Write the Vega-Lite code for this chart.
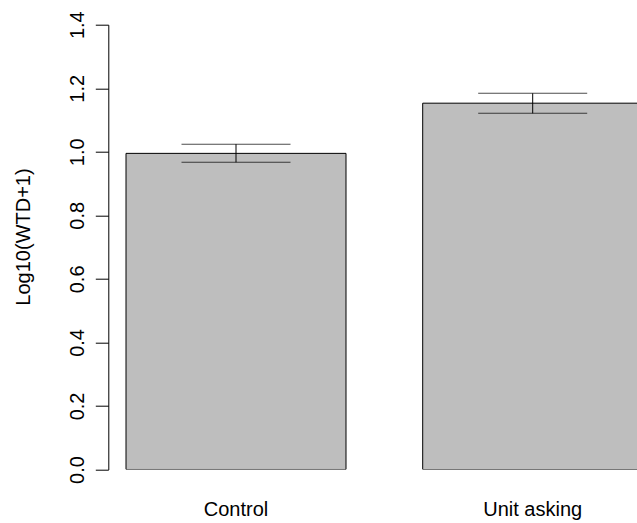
{
  "$schema": "https://vega.github.io/schema/vega-lite/v6.json",
  "width": 528.7,
  "height": 444.8,
  "autosize": "none",
  "padding": {"left": 108.3, "top": 24.7, "right": 0, "bottom": 53.5},
  "background": "white",
  "config": {"view": {"stroke": null}, "font": "Liberation Sans"},
  "data": {"values": [
    {"group": "Control", "mean": 0.995, "lo": 0.967, "hi": 1.024},
    {"group": "Unit asking", "mean": 1.153, "lo": 1.121, "hi": 1.184}
  ]},
  "encoding": {
    "x": {
      "field": "group", "type": "nominal", "sort": null,
      "scale": {"range": [0, 552.1], "paddingInner": 0.2585, "paddingOuter": 0.0597},
      "axis": {"title": null, "domain": false, "ticks": false, "tickSize": 0, "labelAngle": 0,
               "labelFontSize": 20, "labelColor": "black", "labelFont": "Liberation Sans",
               "labelBaseline": "alphabetic", "labelPadding": 45.5}
    }
  },
  "layer": [
    {
      "mark": {"type": "bar", "fill": "#bebebe", "stroke": "black", "strokeWidth": 1, "clip": true},
      "encoding": {
        "y": {
          "field": "mean", "type": "quantitative",
          "scale": {"domain": [0, 1.4], "nice": false, "zero": true},
          "axis": {
            "title": "Log10(WTD+1)",
            "values": [0, 0.2, 0.4, 0.6, 0.8, 1.0, 1.2, 1.4],
            "format": ".1f", "grid": false, "labelOverlap": false,
            "domainColor": "black", "domainWidth": 1,
            "tickColor": "black", "tickSize": 13, "tickWidth": 1,
            "labelAngle": 270, "labelAlign": "center", "labelBaseline": "alphabetic",
            "labelPadding": 12, "labelFontSize": 20, "labelColor": "black", "labelFont": "Liberation Sans",
            "titleFontSize": 20, "titleFontWeight": "normal", "titleColor": "black", "titleFont": "Liberation Sans",
            "titleAngle": 270, "titleX": -79.3, "titleY": 211.8, "titleAlign": "center", "titleBaseline": "alphabetic"
          }
        }
      }
    },
    {
      "mark": {"type": "rule", "color": "black", "strokeWidth": 1},
      "encoding": {
        "y": {"field": "lo", "type": "quantitative"},
        "y2": {"field": "hi"}
      }
    },
    {
      "mark": {"type": "tick", "color": "black", "size": 109, "thickness": 1, "orient": "horizontal"},
      "encoding": {"y": {"field": "hi", "type": "quantitative"}}
    },
    {
      "mark": {"type": "tick", "color": "black", "size": 109, "thickness": 1, "orient": "horizontal"},
      "encoding": {"y": {"field": "lo", "type": "quantitative"}}
    }
  ]
}
